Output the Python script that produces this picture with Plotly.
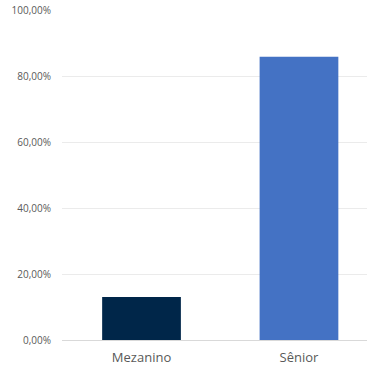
import plotly.graph_objects as go

categories = ["Mezanino", "Sênior"]
shares = [0.130, 0.858]
bar_colors = ["#002649", "#4472C4"]
y_ticks = [0, 0.2, 0.4, 0.6, 0.8, 1.0]

fig = go.Figure(
    go.Bar(
        x=[0, 1],
        y=shares,
        marker=dict(color=bar_colors, line=dict(width=0)),
        width=0.5,
        hoverinfo="skip",
    )
)

fig.update_layout(
    width=367,
    height=365,
    margin=dict(l=62, r=0, t=10, b=25),
    paper_bgcolor="white",
    plot_bgcolor="white",
    separators=",.",
    showlegend=False,
    font=dict(family="Open Sans, Liberation Sans, sans-serif", color="#595959"),
)

fig.update_xaxes(
    range=[-0.505, 1.432],
    tickmode="array",
    tickvals=[0, 1],
    ticktext=categories,
    showgrid=False,
    zeroline=False,
    showline=True,
    linecolor="#d9d9d9",
    linewidth=1,
    ticks="",
    tickfont=dict(size=13, color="#595959"),
    ticklabelstandoff=5,
)

fig.update_yaxes(
    range=[0, 1.0],
    tickmode="array",
    tickvals=y_ticks,
    tickformat=".2%",
    showgrid=True,
    gridcolor="#ebebeb",
    gridwidth=1,
    zeroline=False,
    showline=False,
    ticks="",
    tickfont=dict(size=10, color="#595959"),
    ticklabelstandoff=10,
)

fig.write_html("out.html")
